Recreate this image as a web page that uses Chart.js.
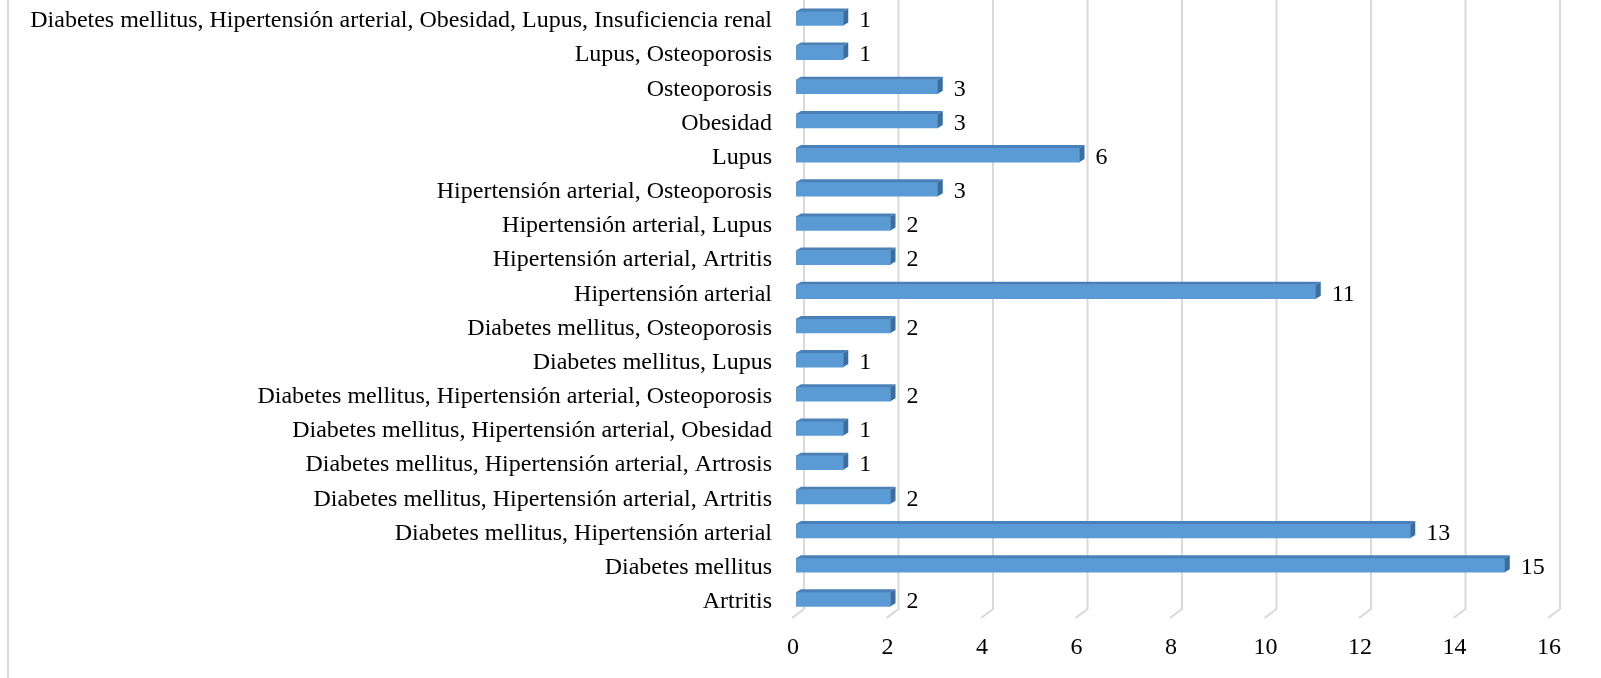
<!DOCTYPE html>
<html>
<head>
<meta charset="utf-8">
<script src="https://cdn.jsdelivr.net/npm/chart.js@4.4.1/dist/chart.umd.min.js"></script>
<style>
  html, body { margin: 0; padding: 0; background: #ffffff; }
  canvas { display: block; }
</style>
</head>
<body>
<canvas id="c" width="1601" height="678"></canvas>
<script>
const categories = [
  "Diabetes mellitus, Hipertensión arterial, Obesidad, Lupus, Insuficiencia renal",
  "Lupus, Osteoporosis",
  "Osteoporosis",
  "Obesidad",
  "Lupus",
  "Hipertensión arterial, Osteoporosis",
  "Hipertensión arterial, Lupus",
  "Hipertensión arterial, Artritis",
  "Hipertensión arterial",
  "Diabetes mellitus, Osteoporosis",
  "Diabetes mellitus, Lupus",
  "Diabetes mellitus, Hipertensión arterial, Osteoporosis",
  "Diabetes mellitus, Hipertensión arterial, Obesidad",
  "Diabetes mellitus, Hipertensión arterial, Artrosis",
  "Diabetes mellitus, Hipertensión arterial, Artritis",
  "Diabetes mellitus, Hipertensión arterial",
  "Diabetes mellitus",
  "Artritis"
];
const counts = [1, 1, 3, 3, 6, 3, 2, 2, 11, 2, 1, 2, 1, 1, 2, 13, 15, 2];
const xTicks = [0, 2, 4, 6, 8, 10, 12, 14, 16];

const FONT = '"Liberation Serif", "Times New Roman", serif';
const FRONT = '#5b9bd5';
const TOP = '#4a80b8';
const SIDE = '#3d6d9b';
const GRID = '#d9d9d9';

const decor = {
  id: 'decor',
  beforeDatasetsDraw(chart) {
    const ctx = chart.ctx;
    const xs = chart.scales.x;
    ctx.save();
    ctx.strokeStyle = GRID;
    ctx.lineWidth = 2;
    ctx.beginPath();
    ctx.moveTo(8, 0);
    ctx.lineTo(8, chart.height);
    ctx.stroke();
    xTicks.forEach(v => {
      const px = xs.getPixelForValue(v);
      ctx.beginPath();
      ctx.moveTo(px + 8, 0);
      ctx.lineTo(px + 8, 609);
      ctx.lineTo(px - 4, 618);
      ctx.stroke();
    });
    ctx.restore();
  },
  afterDatasetsDraw(chart) {
    const ctx = chart.ctx;
    const meta = chart.getDatasetMeta(0);
    const dx = 5, dy = 3;
    ctx.save();
    meta.data.forEach((el, i) => {
      const p = el.getProps(['x', 'y', 'base', 'height'], true);
      const top = p.y - p.height / 2;
      const bot = p.y + p.height / 2;
      ctx.fillStyle = TOP;
      ctx.beginPath();
      ctx.moveTo(p.base, top);
      ctx.lineTo(p.base + dx, top - dy);
      ctx.lineTo(p.x + dx, top - dy);
      ctx.lineTo(p.x, top);
      ctx.closePath();
      ctx.fill();
      ctx.fillStyle = SIDE;
      ctx.beginPath();
      ctx.moveTo(p.x, top);
      ctx.lineTo(p.x + dx, top - dy);
      ctx.lineTo(p.x + dx, bot - dy);
      ctx.lineTo(p.x, bot);
      ctx.closePath();
      ctx.fill();
      ctx.fillStyle = '#000000';
      ctx.font = '24px ' + FONT;
      ctx.textAlign = 'left';
      ctx.textBaseline = 'middle';
      ctx.fillText(String(counts[i]), p.x + 16, p.y + 2.5);
    });
    ctx.restore();
  }
};

new Chart(document.getElementById('c'), {
  type: 'bar',
  data: {
    labels: categories,
    datasets: [{
      data: counts,
      backgroundColor: FRONT,
      borderWidth: 0,
      barThickness: 14
    }]
  },
  options: {
    indexAxis: 'y',
    responsive: false,
    animation: false,
    devicePixelRatio: 1,
    layout: { padding: { top: 1.3, left: 0, right: 49, bottom: 0 } },
    plugins: {
      legend: { display: false },
      tooltip: { enabled: false }
    },
    scales: {
      x: {
        type: 'linear',
        min: 0,
        max: 16,
        ticks: {
          stepSize: 2,
          color: '#000000',
          font: { family: FONT, size: 24 },
          padding: 17,
          labelOffset: -3
        },
        grid: { display: false, drawTicks: false },
        border: { display: false },
        afterFit(scale) {
          scale.height = 61.6;
          scale.paddingLeft = 0;
          scale.paddingRight = 0;
        }
      },
      y: {
        type: 'category',
        ticks: {
          color: '#000000',
          font: { family: FONT, size: 24 },
          padding: 24,
          labelOffset: 2.5,
          autoSkip: false
        },
        grid: { display: false, drawTicks: false },
        border: { display: false },
        afterFit(scale) {
          scale.width = 796;
          scale.paddingTop = 0;
          scale.paddingBottom = 0;
        }
      }
    }
  },
  plugins: [decor]
});
</script>
</body>
</html>
